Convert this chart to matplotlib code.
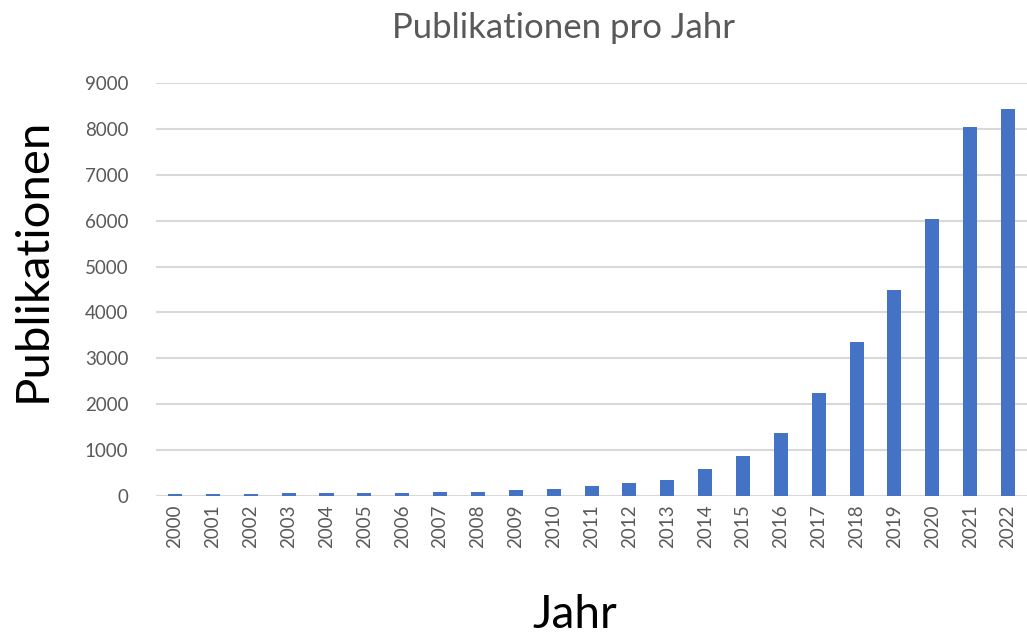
import matplotlib.pyplot as plt

plt.rcParams["font.family"] = ["Lato", "DejaVu Sans"]

years = [str(y) for y in range(2000, 2023)]
publications = [40, 40, 40, 60, 65, 65, 65, 100, 100, 130,
                165, 230, 280, 345, 600, 870, 1370, 2250, 3350,
                4490, 6030, 8040, 8430]
yticks = list(range(0, 10000, 1000))

W, H = 1027, 637
fig = plt.figure(figsize=(W / 100, H / 100), dpi=100)
ax = fig.add_axes([0.152, 0.221, 0.848, 0.649])

x = list(range(len(years)))
ax.bar(x, publications, width=0.37, color="#4472C4", zorder=3)

ax.set_xlim(-0.5, len(years) - 0.5)
ax.set_ylim(0, 9000)
ax.set_yticks(yticks)
ax.set_xticks(x)
ax.set_xticklabels(years, rotation=90)
ax.tick_params(axis="both", length=0, colors="#595959", labelsize=13.5)
ax.tick_params(axis="y", pad=20)
ax.tick_params(axis="x", pad=6)
ax.grid(axis="y", color="#d9d9d9", linewidth=1.5, zorder=0)
for s in ax.spines.values():
    s.set_visible(False)

# title and axis titles placed like the original chart layout
fig.text(564 / W, 1 - 28 / H, "Publikationen pro Jahr", color="#595959",
         fontsize=25, ha="center", va="center")
fig.text(33 / W, 1 - 260 / H, "Publikationen", fontsize=34, color="black",
         rotation=90, ha="center", va="center")
fig.text(575 / W, 1 - 615 / H, "Jahr", fontsize=33, color="black",
         ha="center", va="center")

fig.savefig("out.png", dpi=100)
